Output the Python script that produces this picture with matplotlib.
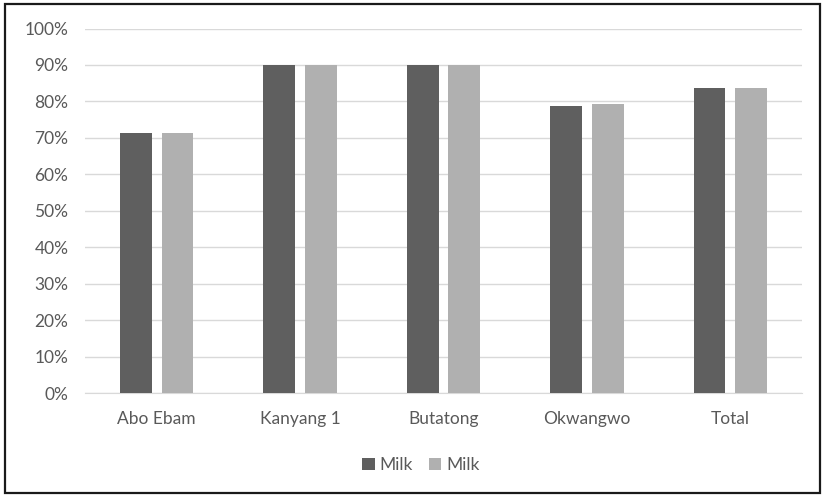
import numpy as np
import matplotlib.pyplot as plt
from matplotlib.patches import Rectangle
from matplotlib.ticker import PercentFormatter

sites = ["Abo Ebam", "Kanyang 1", "Butatong", "Okwangwo", "Total"]
milk_a = [71.3, 90.0, 90.0, 78.7, 83.6]
milk_b = [71.3, 90.0, 90.0, 79.3, 83.6]
series_names = ["Milk", "Milk"]

plt.rcParams['font.family'] = ['Lato', 'DejaVu Sans']
text_col = "#595959"

fig = plt.figure(figsize=(8.22, 4.96), dpi=100)
ax = fig.add_axes([85 / 822, 1 - 393 / 496, 717 / 822, 364.5 / 496])

x = np.arange(len(sites))
w = 0.222
ax.bar(x - 0.145, milk_a, w, color="#5f5f5f", label=series_names[0], zorder=3)
ax.bar(x + 0.145, milk_b, w, color="#b0b0b0", label=series_names[1], zorder=3)

ax.set_xlim(-0.5, len(sites) - 0.5)
ax.set_ylim(0, 100)
ax.set_yticks(np.arange(0, 101, 10))
ax.yaxis.set_major_formatter(PercentFormatter(decimals=0))
ax.set_xticks(x)
ax.set_xticklabels(sites)
ax.grid(axis="y", color="#d9d9d9", linewidth=1, zorder=0)
for s in ["top", "right", "left"]:
    ax.spines[s].set_visible(False)
ax.spines["bottom"].set_color("#d9d9d9")
ax.tick_params(length=0, colors=text_col, labelsize=12.5)
ax.tick_params(axis="y", pad=12)
ax.tick_params(axis="x", pad=13)

fig.legend(loc="center", bbox_to_anchor=(421 / 822, 1 - 465 / 496), ncol=2,
           frameon=False, fontsize=12.5, labelcolor=text_col, handlelength=0.7,
           handleheight=0.7, handletextpad=0.3, columnspacing=0.9)

# outer frame
fig.patches.append(Rectangle((5 / 822, 3 / 496), 815 / 822, 489 / 496,
                             transform=fig.transFigure, fill=False,
                             edgecolor="#1a1a1a", linewidth=1.6))

fig.savefig("out.png", dpi=100)
